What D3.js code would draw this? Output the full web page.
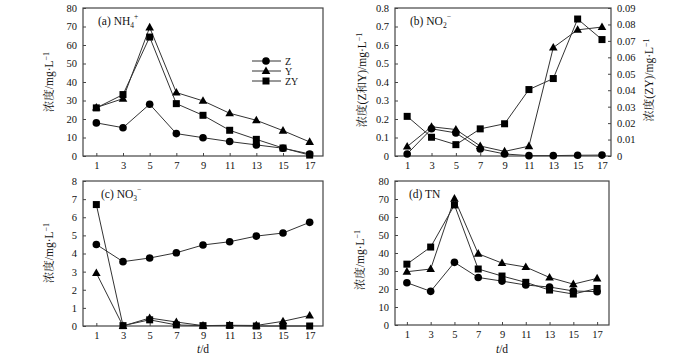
<!DOCTYPE html>
<html><head><meta charset="utf-8">
<script src="https://cdn.jsdelivr.net/npm/d3@7"></script>
<style>
body{margin:0;background:#fff;}
svg{display:block;}
text{font-family:"Liberation Serif","Times New Roman",Times,"DejaVu Serif",serif;fill:#111;}
</style></head><body>
<svg id="c" width="700" height="358"></svg>
<script>
const days = [1,3,5,7,9,11,13,15,17];
const seriesNames = ["Z","Y","ZY"];
// (a) NH4+
const nh4Z  = [17.9,15.3,28.0,12.1,9.9,7.8,6.0,4.2,1.1];
const nh4Y  = [26.2,31.0,69.5,34.3,29.8,23.1,19.3,13.7,7.6];
const nh4ZY = [26.0,33.2,64.3,28.3,22.0,13.9,9.0,4.3,0.5];
// (b) NO2- (Z and Y on left axis, ZY on right axis)
const no2Z  = [0.011,0.147,0.125,0.038,0.011,0.002,0.002,0.004,0.005];
const no2Y  = [0.051,0.158,0.143,0.054,0.025,0.053,0.586,0.682,0.697];
const no2ZY = [0.0241,0.0114,0.0069,0.0165,0.0196,0.0404,0.0471,0.0833,0.0708];
// (c) NO3-
const no3Z  = [4.50,3.55,3.75,4.04,4.47,4.65,4.96,5.13,5.72];
const no3Y  = [2.92,0.0,0.44,0.22,0.02,0.04,0.03,0.26,0.58];
const no3ZY = [6.70,0.02,0.34,0.06,0.02,0.03,0.0,0.0,0.0];
// (d) TN
const tnZ  = [23.5,18.7,34.8,26.4,24.4,22.2,21.1,18.9,18.5];
const tnY  = [29.6,31.1,70.2,39.6,34.4,32.2,26.4,22.7,25.9];
const tnZY = [33.8,43.3,66.7,31.1,27.2,23.7,19.4,17.2,20.3];
// tick labels
const yTicksA = [0,10,20,30,40,50,60,70,80];
const yTicksB = [0,0.1,0.2,0.3,0.4,0.5,0.6,0.7,0.8];
const yTicksBR = [0,0.01,0.02,0.03,0.04,0.05,0.06,0.07,0.08,0.09];
const yTicksC = [0,1,2,3,4,5,6,7,8];

const SERIF = '"Liberation Serif","Times New Roman",Times,"DejaVu Serif",serif';
const CJK = '"Noto Serif CJK SC","Noto Sans CJK SC",sans-serif';
const svg = d3.select("#c");
const FS = 10.5;

function marker(g, type, x, y){
  if(type==="Z") g.append("circle").attr("cx",x).attr("cy",y).attr("r",3.8).attr("fill","#000");
  else if(type==="Y") g.append("path").attr("d",`M${x},${y-4.6}L${x+4.3},${y+3}L${x-4.3},${y+3}Z`).attr("fill","#000");
  else g.append("rect").attr("x",x-3.5).attr("y",y-3.5).attr("width",7).attr("height",7).attr("fill","#000");
}

function drawSeries(g, x, y, vals, type){
  const line = d3.line().x((d,i)=>x(days[i])).y(d=>y(d));
  g.append("path").attr("d",line(vals)).attr("fill","none").attr("stroke","#333").attr("stroke-width",1);
  vals.forEach((v,i)=>marker(g,type,x(days[i]),y(v)));
}

function styleAxis(a){
  a.attr("font-family",SERIF);
  a.select(".domain").remove();
  a.selectAll("line").attr("stroke","#444");
  a.selectAll("text").attr("font-size",FS).attr("font-family",SERIF).style("font-family",SERIF).attr("fill","#111");
}

function panel(o){
  const g = svg.append("g");
  const x = d3.scaleLinear().domain(o.xd).range([o.l,o.r]);
  const y = d3.scaleLinear().domain(o.yd).range([o.b,o.t]);
  g.append("rect").attr("x",o.l).attr("y",o.t).attr("width",o.r-o.l).attr("height",o.b-o.t)
   .attr("fill","none").attr("stroke","#444").attr("stroke-width",1.2);
  const xa = g.append("g").attr("transform",`translate(0,${o.b})`)
    .call(d3.axisBottom(x).tickValues(days).tickSizeInner(-3).tickSizeOuter(0).tickPadding(6));
  const ya = g.append("g").attr("transform",`translate(${o.l},0)`)
    .call(d3.axisLeft(y).tickValues(o.yt).tickSizeInner(-3).tickSizeOuter(0).tickPadding(6).tickFormat(o.fmt||(d=>d)));
  styleAxis(xa); styleAxis(ya);
  return {g,x,y};
}

function ylabel(x,y,parts){
  const t = svg.append("text").attr("transform",`translate(${x},${y}) rotate(-90)`)
    .attr("text-anchor","middle").attr("font-size",11.5).style("font-family",SERIF);
  parts.forEach(p=>{
    const s = t.append("tspan").text(p.t);
    if(p.sup){ s.attr("dy",-4).attr("font-size",8); }
    if(p.cjk){ s.style("font-family",CJK).attr("font-size",11.5); }
  });
  return t;
}
function title(x,y,main,sub,sup){
  const t = svg.append("text").attr("x",x).attr("y",y).attr("font-size",11.5).style("font-family",SERIF);
  t.append("tspan").text(main);
  if(sub){ t.append("tspan").text(sub).attr("dy",3).attr("font-size",7.5); }
  if(sup){ t.append("tspan").text(sup).attr("dy",sub?-9:-4).attr("font-size",7.5); }
}

// Panel (a)
const A = panel({l:83,r:323,t:8,b:156,xd:[0,18],yd:[0,80],yt:yTicksA});
drawSeries(A.g,A.x,A.y,nh4Z,"Z");
drawSeries(A.g,A.x,A.y,nh4Y,"Y");
drawSeries(A.g,A.x,A.y,nh4ZY,"ZY");
title(98,25,"(a) NH","4","+");
// legend
[["Z",61],["Y",71],["ZY",81]].forEach(([n,yy])=>{
  A.g.append("line").attr("x1",252).attr("x2",281).attr("y1",yy).attr("y2",yy).attr("stroke","#333");
  marker(A.g,n,266,yy);
  A.g.append("text").attr("x",285).attr("y",yy+3.5).attr("font-size",10).style("font-family",SERIF).text(n);
});
ylabel(53,82,[{t:"浓度",cjk:1},{t:"/mg·L"},{t:"−1",sup:1}]);

// Panel (b)
const B = panel({l:395,r:611,t:8,b:156,xd:[0,17.74],yd:[0,0.8],yt:yTicksB,fmt:d=>d===0?"0":d3.format(".1f")(d)});
const yR = d3.scaleLinear().domain([0,0.09]).range([156,8]);
const ra = B.g.append("g").attr("transform","translate(611,0)")
  .call(d3.axisRight(yR).tickValues(yTicksBR).tickSizeInner(-3).tickSizeOuter(0).tickPadding(6).tickFormat(d=>d===0?"0":d3.format(".2f")(d)));
styleAxis(ra);
drawSeries(B.g,B.x,B.y,no2Z,"Z");
drawSeries(B.g,B.x,B.y,no2Y,"Y");
drawSeries(B.g,B.x,yR,no2ZY,"ZY");
title(410,25,"(b) NO","2","−");
ylabel(366,80,[{t:"浓度",cjk:1},{t:"(Z"},{t:"和",cjk:1},{t:"Y)/mg·L"},{t:"−1",sup:1}]);
ylabel(653,80,[{t:"浓度",cjk:1},{t:"(ZY)/mg·L"},{t:"−1",sup:1}]);

// Panel (c)
const C = panel({l:83,r:323,t:181,b:326,xd:[0,18],yd:[0,8],yt:yTicksC});
drawSeries(C.g,C.x,C.y,no3Z,"Z");
drawSeries(C.g,C.x,C.y,no3Y,"Y");
drawSeries(C.g,C.x,C.y,no3ZY,"ZY");
title(101,198,"(c) NO","3","−");
ylabel(53,253,[{t:"浓度",cjk:1},{t:"/mg·L"},{t:"−1",sup:1}]);

// Panel (d)
const D = panel({l:395,r:609,t:181,b:325,xd:[0,18],yd:[0,80],yt:yTicksA});
drawSeries(D.g,D.x,D.y,tnZ,"Z");
drawSeries(D.g,D.x,D.y,tnY,"Y");
drawSeries(D.g,D.x,D.y,tnZY,"ZY");
title(409,198,"(d)  TN");
ylabel(364,260,[{t:"浓度",cjk:1},{t:"/mg·L"},{t:"−1",sup:1}]);

// x titles
[[203,353],[502,353]].forEach(([x,y])=>{
  const t = svg.append("text").attr("x",x).attr("y",y).attr("text-anchor","middle").attr("font-size",11.5).style("font-family",SERIF);
  t.append("tspan").text("t").attr("font-style","italic");
  t.append("tspan").text("/d");
});
</script></body></html>
